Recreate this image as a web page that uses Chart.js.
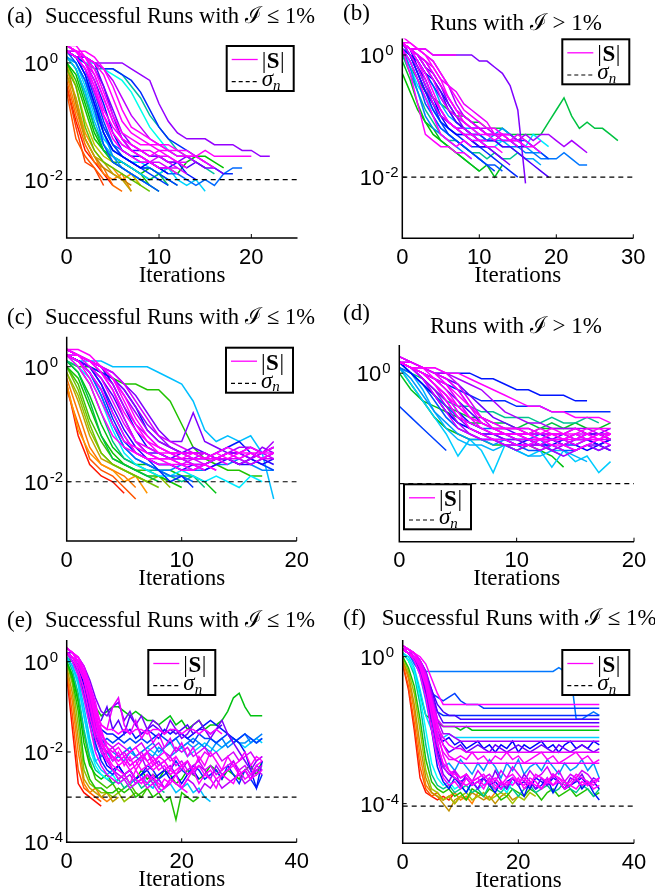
<!DOCTYPE html>
<html>
<head>
<meta charset="utf-8">
<script src="https://cdn.jsdelivr.net/npm/chart.js@4.4.0/dist/chart.umd.min.js"></script>
<style>
html, body { margin: 0; padding: 0; background: #fff; }
#wrap { position: relative; width: 655px; height: 895px; }
#wrap canvas { position: absolute; left: 0; top: 0; }
</style>
</head>
<body>
<div id="wrap">
<canvas id="pa" width="655" height="895"></canvas>
<canvas id="pb" width="655" height="895"></canvas>
<canvas id="pc" width="655" height="895"></canvas>
<canvas id="pd" width="655" height="895"></canvas>
<canvas id="pe" width="655" height="895"></canvas>
<canvas id="pf" width="655" height="895"></canvas>
</div>
<script>
// every run is a list of log10(|S|) values in tenths of a decade (-20 = 10^-2),
// one per iteration starting at iteration 0
const runsA = [
	[-4,-10,-15,-17,-19,-21],
	[-5,-13,-16,-18,-20],
	[-3,-9,-14,-17,-18,-21,-22],
	[-2,-8,-13,-16,-19,-20,-19,-22],
	[-4,-11,-17,-18,-21],
	[-1,-6,-12,-15,-17,-18,-20,-19,-21],
	[-2,-6,-13,-16,-17,-19,-20,-22],
	[0,-4,-10,-14,-16,-17,-18,-19,-21],
	[-1,-4,-11,-15,-17,-18,-19,-20,-21,-22],
	[0,-3,-8,-13,-15,-17,-17,-18,-19,-21],
	[0,-2,-7,-12,-15,-16,-17,-18,-19,-18,-19,-18,-19,-17,-16,-16,-17,-18],
	[1,-1,-6,-11,-14,-16,-17,-18,-19,-20,-19,-21],
	[1,0,-3,-8,-12,-15,-16,-17,-18,-18,-19,-20,-21],
	[2,1,0,-1,-1,-1,-2,-4,-6,-9,-11,-13,-15,-16,-17,-18,-19],
	[2,1,0,0,-1,-2,-3,-5,-8,-11,-13,-15,-16,-16,-17],
	[1,0,-4,-9,-13,-15,-16,-17,-17,-18,-19,-18,-20,-21,-20,-22],
	[2,1,-2,-7,-11,-14,-15,-16,-17,-17,-18,-19,-19,-20,-21,-20,-21,-19,-18,-18],
	[2,0,-3,-8,-14,-17,-18,-19,-20,-21,-22],
	[2,1,-1,-5,-10,-14,-16,-17,-18,-19,-20,-21],
	[2,1,0,-3,-7,-12,-15,-16,-16,-17,-18,-18,-17,-19,-20],
	[2,1,1,0,-1,-1,-2,-3,-5,-8,-11,-13,-14,-15,-16,-17,-18,-19,-19],
	[3,2,1,0,-4,-9,-13,-15,-15,-16,-16,-17,-17,-18,-17,-18],
	[2,1,1,0,0,0,0,-1,-2,-3,-7,-10,-12,-13,-13,-13,-14,-14,-14,-15,-15,-16,-16],
	[3,2,1,-1,-5,-9,-12,-13,-14,-14,-15,-15,-16,-16,-16,-17],
	[3,2,0,-3,-8,-11,-13,-14,-15,-15,-16,-16,-17,-17],
	[3,3,1,0,-2,-6,-10,-12,-13,-14,-14,-15,-15,-15,-16,-15,-16,-16,-16,-16,-16],
	[3,2,2,1,-1,-4,-8,-11,-12,-13,-14,-14,-15,-16,-16,-17,-18],
	[2,2,0,-2,-6,-10,-13,-15,-16,-17,-17,-18,-18,-19],
	[3,2,1,0,-1,-3,-6,-9,-11,-13,-14,-15,-16,-16,-17],
	[2,1,-1,-4,-9,-12,-14,-15,-16,-17,-18],
	[2,1,-1,-6,-11,-14,-16,-17,-18,-18,-19,-20,-21],
	[1,-1,-5,-10,-14,-16,-17,-18,-19,-20],
	[2,1,-2,-7,-12,-15,-16,-17,-18,-17,-18,-19],
	[3,2,0,-4,-9,-13,-15,-16,-17,-17,-18,-18,-19],
	[2,1,-1,-5,-9,-12,-14,-15,-16,-17,-16,-17,-18],
	[1,0,-3,-7,-12,-16,-18,-19,-20,-21],
	[1,-1,-5,-11,-15,-17,-18,-19,-20,-21,-22],
	[3,2,1,-2,-6,-10,-13,-14,-15,-16,-15,-16,-17,-18],
	[2,2,1,-1,-4,-8,-12,-14,-15,-16,-16,-17,-17,-16,-17,-18,-18,-19],
	[0,-7,-13,-16,-18,-19,-20,-21]
];
const huesA = [5,20,25,30,15,35,50,60,90,110,120,150,165,170,175,190,215,220,225,235,230,260,275,300,295,300,300,290,285,300,225,195,240,300,290,205,140,300,270,40];

const runsB = [
	[-3,-6,-9,-11,-13,-14,-15,-16,-17,-18,-19],
	[-1,-4,-8,-11,-12,-14,-15,-16,-17,-18,-19,-18,-20,-18],
	[0,-2,-4,-6,-7,-8,-9,-10,-10,-11,-11,-12,-12,-12,-13,-13,-13,-13,-13,-11,-9,-7,-10,-12,-11,-12,-12,-13,-14],
	[0,-3,-6,-9,-11,-13,-14,-14,-15,-16,-16,-17,-16,-17,-17,-16,-17],
	[1,-2,-5,-7,-9,-11,-12,-13,-13,-14,-14,-15,-15,-14,-14,-14,-15,-13,-14,-15],
	[1,-1,-4,-7,-10,-12,-13,-14,-15,-16,-17,-18],
	[1,0,-3,-6,-8,-10,-11,-12,-12,-13,-13,-14,-13,-12,-13,-14,-15,-16,-16,-17],
	[2,0,-2,-5,-7,-9,-11,-12,-13,-13,-14,-14,-14,-15,-15,-15,-16,-16,-17,-17,-17,-16,-17,-18,-18],
	[1,-1,-4,-8,-10,-12,-13,-14,-15,-16,-17,-18,-18,-19],
	[2,1,-1,-3,-5,-7,-9,-11,-12,-13,-13,-14,-14,-13,-13,-14,-14,-15,-16,-17],
	[2,0,-3,-6,-9,-11,-12,-13,-14,-15,-15,-16,-17,-18,-19,-20],
	[1,0,-1,-3,-4,-6,-8,-10,-11,-12,-12,-13,-13,-14,-14,-15,-15],
	[2,1,-2,-4,-7,-10,-12,-13,-13,-14,-15,-15],
	[2,1,0,-2,-4,-6,-9,-11,-12,-13,-14,-14,-14,-15,-15,-16,-17,-18,-19,-20],
	[2,1,1,1,0,0,0,0,0,0,-1,-1,-2,-3,-5,-9,-21],
	[2,1,1,0,-1,-3,-5,-8,-10,-11,-12,-13,-13,-13,-13,-14,-13,-14,-13,-13,-14,-15,-14,-15,-16],
	[2,1,0,-1,-3,-5,-7,-9,-10,-11,-12,-12,-13,-13,-14,-14,-15],
	[2,1,1,1,0,0,0,0],
	[2,1,-1,-3,-6,-9,-11,-12,-13,-13,-14,-14],
	[2,1,0,-2,-4,-7,-9,-10,-11,-12,-12,-13,-13,-14,-14,-15],
	[2,2,1,0,-2,-4,-7,-9,-11,-12,-13,-13,-14,-13,-14,-14,-15,-15,-16],
	[2,0,-2,-5,-8,-10,-11,-12,-12,-13,-13],
	[1,-1,-4,-7,-10,-13,-14,-15,-14,-15],
	[2,1,0,-1,-2,-4,-5,-6,-8,-9,-10,-11,-13,-13,-14,-14],
	[3,2,1,0,-1,-3,-5,-7,-9,-10,-11,-12,-12,-13,-13],
	[1,-3,-8,-13,-14,-15,-15,-16,-16,-17],
	[2,1,-1,-4,-7,-9,-11,-12,-13,-14,-14,-15,-15,-16],
	[2,0,-3,-6,-8,-10,-11,-12,-13,-14,-15,-15,-16,-17],
	[1,0,-2,-5,-8,-11,-13,-14,-15,-16,-17,-18,-19],
	[2,1,0,-1,-3,-5,-7,-9,-10,-11,-12,-13,-13,-13,-14,-13,-14,-15,-14],
	[1,-2,-6,-10,-12,-13,-14,-15,-16,-17],
	[2,1,0,-2,-3,-5,-8,-10,-12,-13,-14,-15,-16,-17,-18],
	[2,1,-1,-3,-5,-8,-10,-11,-12,-12,-13,-14,-14,-14,-15,-16,-17,-17,-18]
];
const huesB = [120,130,140,165,185,195,205,212,220,225,230,235,240,258,270,280,285,300,300,295,300,290,300,295,300,300,300,250,225,295,210,270,200];

const runsC = [
	[-3,-12,-17,-19,-20,-22],
	[-4,-10,-16,-18,-19,-21,-23],
	[-2,-8,-14,-17,-18,-19,-21],
	[-3,-11,-15,-17,-18,-20,-19,-22],
	[-1,-6,-12,-16,-17,-18,-19,-20],
	[-1,-5,-11,-15,-17,-18,-19,-20,-19,-21],
	[0,-3,-9,-13,-16,-17,-18,-18,-19,-20],
	[0,-2,-7,-12,-15,-17,-18,-19,-19,-20,-21],
	[1,-1,-5,-10,-14,-16,-17,-17,-18,-18,-19,-19,-20,-22],
	[1,0,0,-1,-2,-3,-3,-4,-4,-6,-10,-14,-16,-17,-18,-18,-19,-19],
	[1,0,-3,-8,-13,-16,-17,-18,-18,-19,-20,-19,-21],
	[2,0,-2,-6,-11,-15,-17,-18,-19,-19,-18,-19,-20,-19,-20,-21,-19,-20],
	[2,1,1,1,0,0,0,0,-1,-2,-3,-6,-11,-13,-12,-13,-12,-15,-23],
	[2,1,-1,-5,-10,-14,-16,-17,-18,-18,-17,-18,-18,-17,-17,-16,-17,-18,-18],
	[2,1,0,-3,-8,-12,-15,-16,-17,-17,-18,-18,-17,-16,-16,-17,-16,-17,-18],
	[2,1,-1,-4,-9,-13,-15,-16,-18,-20,-19,-21],
	[2,1,0,-1,-2,-4,-7,-11,-13,-14,-15,-16,-16,-15,-14,-13,-15,-16,-15],
	[2,2,1,0,-3,-7,-11,-14,-15,-16,-16,-17,-17,-16,-16,-17,-16,-17,-16],
	[2,1,0,-2,-5,-9,-13,-15,-15,-16,-15,-14,-15,-16,-15,-15,-16,-15,-14],
	[3,2,1,0,-1,-3,-5,-8,-11,-13,-13,-8,-13,-14,-15,-15,-14,-15,-14],
	[3,2,1,0,-2,-5,-8,-11,-13,-14,-15,-15,-15,-16,-15,-14,-14,-15,-13],
	[3,2,1,-1,-4,-8,-11,-13,-14,-15,-15,-16,-16,-15,-16,-15,-15,-16,-15],
	[3,2,0,-2,-6,-10,-13,-14,-15,-16,-16,-17,-17,-16,-17],
	[3,3,2,0,-2,-5,-9,-12,-14,-15,-15,-15,-16,-16,-15,-16,-15,-15,-15],
	[3,2,1,0,-1,-3,-6,-9,-12,-13,-14,-15,-15,-16,-16,-16,-17,-16,-16],
	[2,1,-2,-6,-10,-13,-14,-15,-16,-16,-17,-17,-18],
	[3,2,1,-1,-3,-7,-10,-12,-14,-15,-16,-16,-15,-16,-16,-17,-16,-15,-16],
	[2,0,-3,-8,-12,-14,-15,-16,-16,-17,-17,-18,-17,-18],
	[2,1,-1,-4,-8,-12,-15,-16,-17,-17,-18,-18,-17,-18],
	[3,2,1,-1,-4,-9,-13,-15,-16,-16,-17,-16,-17,-16,-15,-16,-15,-16,-15],
	[2,1,-1,-5,-10,-14,-16,-17,-18,-19,-19,-20],
	[1,-1,-6,-12,-16,-17,-18,-19,-20],
	[0,-4,-10,-15,-17,-18,-19,-20,-21],
	[2,2,1,0,-2,-6,-10,-13,-15,-15,-16,-15,-16,-15,-14,-15,-14,-15,-14],
	[2,1,0,-3,-7,-11,-14,-16,-17,-17,-18,-17,-18,-17,-16,-17,-17,-16,-17],
	[3,2,1,0,-2,-4,-7,-10,-12,-14,-15,-15,-16,-16,-15,-15,-16,-14,-15]
];
const huesC = [5,20,28,35,50,75,100,115,125,110,160,185,195,210,225,230,235,245,260,270,280,300,295,300,290,300,285,300,300,290,215,140,85,300,250,275];

const runsD = [
	[1,-2,-5,-8,-10,-11,-12,-12,-13,-13,-14,-13,-14,-15,-17],
	[0,-3,-5,-6,-7,-8,-9,-9,-10,-10,-10,-11,-10,-10,-10,-9,-10,-10,-9],
	[1,0,-2,-4,-6,-7,-8,-8,-9,-9,-10,-9,-10,-9,-10,-10,-11,-11,-12],
	[1,0,-1,-3,-5,-6,-6,-7,-7,-8,-8,-8,-9,-8,-9,-9,-8,-9],
	[1,-2,-5,-8,-11,-15,-12,-14,-18,-13,-14,-15,-14,-17,-14,-16,-15,-18,-16],
	[2,0,-3,-7,-10,-12,-13,-13,-14,-13,-14,-15,-15,-14,-14,-15,-16],
	[1,-1,-4,-7,-9,-11,-12,-12,-13,-12,-13,-13,-12,-14,-15],
	[-6,-8,-10,-12,-14],
	[2,1,-1,-4,-7,-9,-10,-11,-11,-12,-12,-12,-13,-12,-13,-13,-12,-13,-12],
	[2,1,1,0,0,0,0,-1,-1,-2,-3,-3,-4,-4,-4,-5,-5],
	[2,1,0,-1,-2,-3,-4,-5,-5,-5,-6,-6,-6,-7,-7,-7,-7,-7,-7],
	[2,0,-2,-5,-8,-10,-11,-12,-12,-13,-13,-14,-14,-13,-14,-14,-13,-14,-13],
	[2,1,0,-2,-4,-7,-9,-10,-11,-11,-12,-12,-12,-12,-13,-12,-12,-13,-12],
	[2,1,0,-1,-3,-5,-7,-9,-10,-10,-11,-11,-11,-12,-11,-12,-11,-11,-12],
	[3,2,1,0,-1,-2,-4,-6,-8,-9,-10,-10,-11,-11,-11,-10,-11,-11,-10],
	[2,2,1,0,0,-1,-2,-3,-5,-7,-8,-9,-9,-10,-10,-10,-10,-11,-11],
	[2,1,-1,-3,-6,-9,-11,-12,-12,-13,-14,-13,-13,-14,-15,-14,-13,-14,-13],
	[2,1,0,-2,-5,-8,-9,-10,-11,-11,-11,-12,-12,-11,-12,-12,-11,-12,-11],
	[3,2,1,0,-2,-5,-8,-10,-11,-11,-12,-12,-13,-12,-12,-13,-12,-11,-12],
	[2,1,1,-1,-3,-6,-8,-9,-10,-10,-10,-11,-10,-11,-11,-10,-11,-10,-10],
	[3,2,1,1,0,-2,-5,-8,-10,-11,-11,-12,-12,-12,-13,-12,-12,-12,-12],
	[2,1,0,-2,-4,-7,-10,-11,-12,-12,-13,-13,-12,-13,-13,-14,-13,-12,-13],
	[2,2,1,0,-1,-3,-6,-9,-10,-11,-11,-11,-12,-11,-11,-12,-12,-11,-11],
	[2,1,1,1,0,0,-1,-2,-3,-4,-5,-6,-6,-7,-7,-8,-8,-8,-9],
	[2,1,-1,-4,-7,-10,-11,-12,-12,-13,-13,-13,-14,-13,-14],
	[2,1,0,-2,-4,-6,-8,-9,-10,-11,-11,-11,-12,-12,-12,-11,-12,-12,-11],
	[3,2,1,0,-1,-3,-6,-8,-9,-10,-10,-11,-11,-11,-12,-11,-11,-12,-11],
	[2,0,-2,-4,-7,-9,-10,-11,-12,-12,-13,-12,-13,-13,-12,-13,-14,-13,-14],
	[1,0,-2,-4,-6,-8,-9,-10,-10,-11,-11,-12,-11,-12,-12,-11,-12,-13,-12],
	[2,1,0,-1,-2,-4,-6,-8,-9,-10,-10,-10,-11,-10,-11,-11,-10,-10,-11],
	[2,1,-1,-3,-5,-8,-10,-11,-11,-12,-12,-13,-13,-14,-13,-14,-13,-13,-14]
];
const huesD = [125,130,140,165,192,198,205,225,225,235,230,220,245,260,265,280,280,300,295,300,290,300,295,300,290,300,290,240,215,300,270];

const runsE = [
	[-3,-15,-27,-29,-30,-31,-32],
	[-2,-12,-24,-28,-29,-30,-31],
	[-2,-9,-20,-27,-29,-28,-30,-31,-30],
	[-1,-7,-17,-26,-28,-29,-30,-29,-31,-30],
	[0,-5,-14,-24,-27,-28,-29,-29,-30,-29,-31,-30,-29,-30],
	[0,-4,-11,-22,-26,-28,-28,-29,-29,-28,-29,-28,-30,-29,-28,-30,-29,-31,-30,-35,-29,-30,-31,-30],
	[1,0,-2,-5,-8,-10,-12,-11,-10,-10,-11,-12,-11,-12,-13,-13,-14,-13,-12,-14,-13,-15,-14,-13,-15,-14,-14,-13,-11,-8,-7,-10,-12,-12,-12],
	[0,-3,-9,-18,-23,-25,-26,-25,-27,-26,-25,-27,-26,-24,-26,-25,-26,-24,-25,-27,-26,-24,-25,-26,-25,-23,-24,-26,-24,-25,-26,-24,-23,-25,-22],
	[1,-2,-7,-15,-21,-24,-25,-26,-27,-26,-28,-27,-26,-28,-27,-26,-28,-29],
	[1,-1,-5,-12,-18,-22,-21,-20,-22,-21,-20,-19,-21,-20,-19,-20,-21,-19,-18,-20,-19,-21,-20,-19,-18,-19,-20,-19,-18,-17,-18,-19,-18,-17,-18],
	[1,-1,-4,-10,-17,-22,-24,-25,-24,-26,-25,-27,-26,-25,-27,-28,-26,-28,-27,-29,-28,-27,-29,-28,-30,-31],
	[2,0,-3,-8,-14,-19,-21,-20,-22,-21,-22,-20,-21,-22,-20,-21,-19,-20,-21,-20,-19,-18,-19,-18,-19,-20,-18,-19,-18,-17,-18,-18,-17,-18,-17],
	[2,0,-2,-7,-13,-17,-18,-17,-18,-17,-18,-17,-18,-17,-18,-17,-16,-17,-18,-17,-16,-17,-18,-16,-17,-17,-18,-17,-16,-18,-17,-16,-17,-18,-17],
	[2,1,-1,-5,-11,-18,-22,-24,-25,-23,-25,-24,-26,-25,-23,-24,-26,-25,-24,-22,-24,-25,-23,-24,-26,-25,-24,-26,-23,-25,-27,-24,-26,-28,-25],
	[2,1,0,-3,-8,-13,-15,-16,-16,-17,-16,-15,-17,-16,-15,-16,-17,-15,-16,-15,-16,-17,-16,-15,-14,-13,-14,-15,-16,-17,-18,-20,-24,-28,-22],
	[2,1,-1,-4,-9,-14,-13,-10,-15,-13,-16,-12,-14,-16,-15,-14,-15,-16,-15,-16,-15,-14,-16,-15,-15,-16,-15,-14],
	[2,2,1,-1,-4,-8,-11,-12,-10,-9,-13,-11,-14,-12,-15,-13,-14,-16,-13,-15,-17,-16,-14,-13,-15,-17,-15,-13,-16,-18,-20,-22,-24,-22,-21],
	[2,1,-1,-4,-9,-15,-18,-20,-21,-22,-21,-23,-22,-21,-24,-23,-22,-24,-23,-25,-24,-22,-25,-23,-24,-26,-23,-25,-24,-22,-25,-24,-26,-23,-24],
	[3,2,0,-3,-8,-14,-19,-22,-24,-25,-26,-25,-27,-26,-25,-27,-26,-28,-26,-27,-28,-26,-27,-29,-27,-28,-26,-28,-27,-26,-25,-27,-26,-24,-25],
	[2,1,-2,-6,-12,-17,-20,-22,-21,-23,-22,-24,-23,-21,-22,-24,-23,-22,-24,-25,-23,-22,-24,-23],
	[3,2,1,-1,-5,-10,-14,-15,-10,-8,-14,-16,-13,-17,-15,-18,-16,-19,-17,-20,-18,-21,-19,-22,-20,-21],
	[3,2,0,-3,-7,-13,-18,-21,-23,-24,-25,-24,-26,-27,-25,-26,-27,-28,-26,-27,-28,-29],
	[2,1,-1,-4,-10,-16,-19,-20,-19,-21,-20,-22,-21,-20,-22,-21,-23,-22,-21,-23,-22,-24,-23,-22,-24,-23,-25,-24,-23,-22,-24,-23,-25,-24,-23],
	[3,2,1,-2,-6,-11,-14,-15,-15,-16,-15,-16,-15,-15,-16,-15,-15,-16,-15,-15,-16,-15,-15,-16,-15,-16,-15,-16],
	[2,0,-3,-8,-14,-20,-23,-25,-26,-27,-26,-28,-27,-26,-28,-27,-29,-28,-27],
	[3,2,0,-2,-6,-12,-17,-21,-24,-26,-25,-27,-24,-26,-27,-25,-28,-26,-27,-25,-28,-26,-24,-27,-25,-26,-28,-25,-26,-27,-24,-26,-25,-23,-22],
	[2,1,0,-2,-5,-9,-15,-19,-22,-20,-23,-21,-24,-22,-20,-23,-21,-22,-24,-21,-23,-22,-24,-21,-23,-20,-22,-24,-21,-23,-22,-20,-23,-21,-22],
	[2,1,-1,-4,-9,-15,-18,-19,-20,-19,-21,-20,-19,-21,-20,-22,-21,-20,-22,-21],
	[3,2,0,-3,-7,-12,-16,-18,-19,-18,-19,-20,-19,-18,-20,-19,-18,-20,-21,-19,-20,-19,-21,-20,-19,-21,-20,-22,-21,-20,-22,-21,-20,-22,-21],
	[1,-1,-5,-12,-19,-23,-25,-26,-25,-27,-26,-28,-27,-26,-27,-28,-26],
	[2,1,-1,-5,-10,-16,-20,-23,-24,-23,-25,-24,-26,-25,-24,-26,-25,-24,-26,-25,-27,-25,-24,-26],
	[0,-3,-8,-16,-22,-26,-27,-28,-27,-29,-28,-27,-29,-30,-28],
	[3,2,1,-2,-6,-11,-16,-19,-21,-22,-21,-23,-22,-24,-23,-22,-24,-23,-25,-24,-23,-25,-24,-23,-25,-24,-26,-25,-24,-23,-25,-24,-26,-25,-24],
	[2,1,-1,-4,-8,-13,-17,-19,-20,-21,-20,-19,-21,-20,-19,-18,-20,-19,-18,-17,-19,-18,-17,-18,-19,-17,-18,-17,-19,-18,-17,-16,-18,-17,-16]
];
const huesE = [3,20,30,48,75,110,125,120,165,190,195,205,225,230,235,260,270,280,285,300,295,300,290,300,295,300,300,300,290,180,240,100,300,210];

const runsF = [
	[-2,-9,-20,-33,-37,-38,-39,-38,-39,-37],
	[-2,-8,-18,-30,-36,-38,-37,-39,-38,-40,-38],
	[-1,-6,-15,-27,-35,-37,-38,-39,-38,-37,-39,-38,-40,-37,-38,-39,-37],
	[-1,-5,-13,-24,-33,-37,-38,-40,-42,-39,-38,-39,-37,-38,-39,-38,-40,-38,-37,-39,-38],
	[0,-4,-10,-20,-31,-36,-37,-39,-38,-40,-38,-37,-39,-38,-37,-39,-38,-37,-38,-40,-38,-39,-37,-38],
	[0,-3,-8,-17,-28,-34,-36,-37,-36,-38,-37,-39,-36,-37,-38,-36,-37,-39,-38,-36,-37,-38,-36,-37,-39,-37,-36,-38,-37,-36,-38,-37,-36,-38,-37],
	[1,-1,-4,-10,-16,-17,-18,-19,-19,-19,-20,-19,-20,-20,-20,-20,-20,-20,-20,-20,-20,-20,-20,-20,-20,-20,-20,-20,-20,-20,-20,-20,-20,-20,-20],
	[1,-1,-5,-13,-24,-32,-35,-36,-35,-37,-36,-35,-37,-36,-38,-35,-36,-37,-35,-36,-38,-36,-35,-37,-36,-35,-37,-36,-34,-36,-37,-35,-36,-38,-36],
	[1,0,-3,-9,-16,-20,-21,-22,-21,-22,-22,-22,-22,-22,-22,-22,-22,-22,-22,-22,-22,-22,-22,-22,-22,-22,-22,-22,-22,-22,-22,-22,-22,-22,-22],
	[2,1,-1,-5,-12,-20,-27,-30,-29,-31,-28,-30,-32,-29,-31,-28,-30,-33,-29,-31,-28,-32,-30,-29,-31,-28,-30,-32,-29,-31,-30,-28,-31,-29,-33],
	[2,1,-2,-4,-4,-4,-4,-4,-4,-4,-4,-4,-4,-4,-4,-4,-4,-4,-4,-4,-4,-4,-4,-4,-4,-4,-4,-3,-4,-4,-17,-17,-16,-15,-16],
	[2,1,0,-2,-6,-10,-11,-12,-11,-10,-12,-13,-13,-13,-14,-14,-14,-14,-14,-14,-14,-14,-14,-14,-14,-14,-14,-14,-14,-14,-14,-14,-14,-14,-14],
	[2,1,0,-2,-5,-11,-15,-16,-16,-16,-16,-16,-16,-16,-16,-16,-16,-16,-16,-16,-16,-16,-16,-16,-16,-16,-16,-16,-16,-16,-16,-16,-16,-16,-16],
	[2,1,-1,-4,-10,-20,-30,-34,-36,-33,-35,-37,-34,-36,-33,-35,-37,-34,-36,-33,-35,-38,-34,-36,-35,-33,-37,-34,-36,-35,-33,-36,-34,-37,-39],
	[2,1,0,-3,-9,-17,-22,-23,-22,-24,-23,-25,-24,-23,-25,-24,-26,-24,-25,-23,-26,-24,-25,-24,-23,-25,-24,-26,-24,-23,-25,-24,-25,-23,-24],
	[2,2,1,-1,-4,-9,-15,-18,-18,-18,-18,-18,-18,-18,-18,-18,-18,-18,-18,-18,-18,-18,-18,-18,-18,-18,-18,-18,-18,-18,-18,-18,-18,-18,-18],
	[2,1,0,-3,-8,-15,-20,-24,-26,-25,-24,-26,-25,-24,-25,-26,-24,-25,-26,-25,-24,-25,-26,-25,-24,-25,-26,-24,-25,-26,-25,-24,-25,-26,-25],
	[2,1,-1,-4,-9,-17,-26,-32,-34,-31,-35,-32,-34,-36,-33,-35,-31,-34,-36,-33,-35,-32,-34,-36,-33,-35,-32,-34,-36,-33,-34,-32,-35,-33,-34],
	[3,2,1,-1,-4,-10,-17,-21,-21,-22,-23,-23,-23,-23,-23,-23,-23,-23,-23,-23,-23,-23,-23,-23,-23,-23,-23,-23,-23,-23,-23,-23,-23,-23,-23],
	[2,2,1,0,-2,-6,-10,-13,-13,-13,-13,-13,-13,-13,-13,-13,-13,-13,-13,-13,-13,-13,-13,-13,-13,-13,-13,-13,-13,-13,-13,-13,-13,-13,-13],
	[3,2,1,-1,-5,-12,-19,-22,-24,-25,-25,-26,-26,-26,-26,-26,-26,-26,-26,-26,-26,-26,-26,-26,-26,-26,-26,-26,-26,-26,-26,-26,-26,-26,-26],
	[2,1,-1,-5,-11,-20,-28,-33,-35,-34,-36,-33,-35,-34,-36,-33,-35,-36,-34,-35,-33,-36,-34,-35,-36,-33,-35,-34,-36,-35,-33,-35,-34,-36,-35],
	[3,2,0,-3,-8,-15,-23,-30,-32,-31,-33,-32,-34,-31,-33,-32,-34,-31,-33,-30,-32,-34,-31,-33,-32,-30,-33,-31,-34,-32,-33,-31,-32,-34,-33],
	[3,2,1,-2,-6,-13,-20,-27,-31,-33,-34,-35,-34,-33,-35,-34,-36,-34,-35,-33,-34,-35,-33,-34,-36,-34,-35,-33,-34,-35,-36,-34,-35,-34,-33],
	[2,1,0,-2,-7,-14,-22,-26,-28,-28,-29,-29,-29,-29,-29,-29,-29,-29,-29,-29,-29,-29,-29,-29,-29,-29,-29,-29,-29,-29,-29,-29,-29,-29,-29],
	[2,1,0,-3,-8,-16,-24,-29,-31,-32,-33,-32,-34,-33,-32,-34,-33,-35,-33,-32,-34,-33,-35,-32,-33,-34,-32,-33,-35,-34,-32,-33,-34,-35,-33],
	[2,1,-1,-4,-9,-17,-25,-30,-32,-33,-34,-33,-35,-34,-33,-35,-34,-36,-34,-33,-35,-34,-36,-33,-34,-35,-33,-34,-36,-35,-34,-33,-35,-34,-36],
	[3,2,1,-1,-5,-11,-17,-19,-19,-19,-19,-19,-19,-19,-19,-19,-19,-19,-19,-19,-19,-19,-19,-19,-19,-19,-19,-19,-19,-19,-19,-19,-19,-19,-19],
	[2,1,0,-2,-6,-12,-18,-24,-27,-28,-27,-28,-26,-28,-27,-29,-27,-28,-26,-28,-27,-29,-28,-27,-26,-28,-27,-29,-28,-27,-26,-28,-27,-29,-28],
	[1,-1,-4,-11,-20,-29,-33,-35,-34,-36,-35,-37,-34,-36,-35,-33,-36,-35,-37,-34],
	[2,1,0,-2,-5,-9,-13,-15,-16,-16,-17,-17,-17,-17,-17,-17,-17,-17,-17,-17,-17,-17,-17,-17,-17,-17,-17,-17,-17,-17,-17,-17,-17,-17,-17]
];
const huesF = [5,20,30,45,70,110,125,165,190,205,212,225,230,235,240,260,265,270,280,300,295,300,290,300,295,300,245,290,300,180,255];

// noise level sigma_n per panel
const sigmaA = 1e-2, sigmaB = 1e-2, sigmaC = 1e-2, sigmaD = 1e-2, sigmaE = 1e-3, sigmaF = 8.5e-5;

// axis ticks (y ticks are decade exponents)
const xTicksA = [0, 10, 20], yTicksA = [0, -2];
const xTicksB = [0, 10, 20, 30], yTicksB = [0, -2];
const xTicksC = [0, 10, 20], yTicksC = [0, -2];
const xTicksD = [0, 10, 20], yTicksD = [0];
const xTicksE = [0, 20, 40], yTicksE = [0, -2, -4];
const xTicksF = [0, 20, 40], yTicksF = [0, -4];

const titleOk = 'Successful Runs with \u2110 \u2264 1%';
const titleBad = 'Runs with \u2110 > 1%';

const SANS = '"Liberation Sans", Arial, sans-serif';
const SERIF = '"Liberation Serif", "Times New Roman", serif';

const panels = [
	{ id: 'pa', runs: runsA, hues: huesA, sigma: sigmaA, xTicks: xTicksA, yTicks: yTicksA,
		xMax: 25, yLo: -3, yHi: 0.29, box: [66.7, 46, 297.5, 238],
		tag: '(a)', tagPos: [7, 23.3], title: titleOk, titlePos: [45, 23.3], titleW: 270, legend: [226.7, 46] },
	{ id: 'pb', runs: runsB, hues: huesB, sigma: sigmaB, xTicks: xTicksB, yTicks: yTicksB,
		xMax: 30, yLo: -3, yHi: 0.27, box: [402.3, 38.5, 633.3, 238.3],
		tag: '(b)', tagPos: [343, 19.5], title: titleBad, titlePos: [430, 30], titleW: 177, legend: [562.3, 39.3] },
	{ id: 'pc', runs: runsC, hues: huesC, sigma: sigmaC, xTicks: xTicksC, yTicks: yTicksC,
		xMax: 20, yLo: -3.03, yHi: 0.52, box: [66.7, 336.8, 296.7, 541],
		tag: '(c)', tagPos: [7, 324.3], title: titleOk, titlePos: [45, 324.3], titleW: 270, legend: [226, 347.7] },
	{ id: 'pd', runs: runsD, hues: huesD, sigma: sigmaD, xTicks: xTicksD, yTicks: yTicksD,
		xMax: 20, yLo: -3.05, yHi: 0.51, box: [399.3, 345, 634, 541.7],
		tag: '(d)', tagPos: [343, 319.5], title: titleBad, titlePos: [430, 333.3], titleW: 172, legend: [404, 484.3] },
	{ id: 'pe', runs: runsE, hues: huesE, sigma: sigmaE, xTicks: xTicksE, yTicks: yTicksE,
		xMax: 40, yLo: -4, yHi: 0.48, box: [66.7, 640, 296.7, 842.3],
		tag: '(e)', tagPos: [7, 626.7], title: titleOk, titlePos: [45, 626.7], titleW: 270, legend: [148.3, 650] },
	{ id: 'pf', runs: runsF, hues: huesF, sigma: sigmaF, xTicks: xTicksF, yTicks: yTicksF,
		xMax: 40, yLo: -5.08, yHi: 0.455, box: [402.7, 640, 634, 843.3],
		tag: '(f)', tagPos: [343, 625], title: titleOk, titlePos: [381.7, 625], titleW: 275, legend: [562.3, 650] }
];

function hueColor(h) {
	// yellows and greens are darker in the original colour map
	const l = (h >= 40 && h <= 170) ? 38 : 50;
	return 'hsl(' + h + ',100%,' + l + '%)';
}

function line(ctx, x1, y1, x2, y2) {
	ctx.beginPath();
	ctx.moveTo(x1, y1);
	ctx.lineTo(x2, y2);
	ctx.stroke();
}

function drawLegend(ctx, L, T) {
	ctx.save();
	ctx.fillStyle = '#fff';
	ctx.fillRect(L, T, 67, 45);
	ctx.strokeStyle = '#000';
	ctx.lineWidth = 2;
	ctx.strokeRect(L, T, 67, 45);

	ctx.strokeStyle = '#ff00ff';
	ctx.lineWidth = 1.3;
	line(ctx, L + 5, T + 13.5, L + 31, T + 13.5);
	ctx.strokeStyle = '#000';
	ctx.lineWidth = 1.2;
	ctx.setLineDash([4, 3]);
	line(ctx, L + 5, T + 35.7, L + 31, T + 35.7);
	ctx.setLineDash([]);

	ctx.fillStyle = '#000';
	ctx.textAlign = 'left';
	ctx.textBaseline = 'alphabetic';
	let x = L + 35;
	ctx.font = '23px ' + SERIF;
	ctx.fillText('|', x, T + 22);
	x += ctx.measureText('|').width + 0.5;
	ctx.font = 'bold 23px ' + SERIF;
	ctx.fillText('S', x, T + 22);
	x += ctx.measureText('S').width + 0.5;
	ctx.font = '23px ' + SERIF;
	ctx.fillText('|', x, T + 22);

	ctx.font = 'italic 23px ' + SERIF;
	ctx.fillText('\u03c3', L + 35, T + 40);
	const w = ctx.measureText('\u03c3').width;
	ctx.font = 'italic 15px ' + SERIF;
	ctx.fillText('n', L + 35 + w, T + 43.5);
	ctx.restore();
}

function makeDecor(p) {
	return {
		id: 'decor',
		afterDraw(chart) {
			const ctx = chart.ctx;
			const xs = chart.scales.x, ys = chart.scales.y;
			const a = chart.chartArea;
			ctx.save();

			// axes (box off)
			ctx.strokeStyle = '#000';
			ctx.lineWidth = 1.5;
			ctx.beginPath();
			ctx.moveTo(a.left, a.top);
			ctx.lineTo(a.left, a.bottom);
			ctx.lineTo(a.right, a.bottom);
			ctx.stroke();

			ctx.lineWidth = 1;
			p.xTicks.forEach((v) => {
				if (v > 0) {
					const x = xs.getPixelForValue(v);
					line(ctx, x, a.bottom, x, a.bottom - 4);
				}
			});
			p.yTicks.forEach((e) => {
				const y = ys.getPixelForValue(Math.pow(10, e));
				line(ctx, a.left, y, a.left + 4, y);
			});

			// tick labels
			ctx.fillStyle = '#000';
			ctx.textBaseline = 'alphabetic';
			ctx.font = '22px ' + SANS;
			ctx.textAlign = 'center';
			p.xTicks.forEach((v) => {
				ctx.fillText(String(v), xs.getPixelForValue(v), a.bottom + 25.5);
			});
			p.yTicks.forEach((e) => {
				const y = ys.getPixelForValue(Math.pow(10, e));
				ctx.font = '22px ' + SANS;
				ctx.textAlign = 'right';
				ctx.fillText('10', a.left - 18, y + 8);
				ctx.font = '15px ' + SANS;
				ctx.textAlign = 'left';
				ctx.fillText(e === 0 ? '0' : '-' + (-e), a.left - 17, y);
			});

			// axis label and titles
			ctx.font = '23px ' + SERIF;
			ctx.textAlign = 'center';
			ctx.fillText('Iterations', (a.left + a.right) / 2, a.bottom + 43.7);
			ctx.textAlign = 'left';
			ctx.fillText(p.tag, p.tagPos[0], p.tagPos[1]);
			ctx.fillText(p.title, p.titlePos[0], p.titlePos[1], p.titleW);
			ctx.restore();

			drawLegend(ctx, p.legend[0], p.legend[1]);
		}
	};
}

panels.forEach((p) => {
	const datasets = p.runs.map((r, i) => ({
		data: r.map((v, k) => ({ x: k, y: Math.pow(10, v / 10) })),
		borderColor: hueColor(p.hues[i]),
		borderWidth: 1.5,
		order: -p.hues[i]
	}));
	datasets.push({
		data: [{ x: 0, y: p.sigma }, { x: p.xMax, y: p.sigma }],
		borderColor: '#000',
		borderWidth: 1.2,
		borderDash: [5, 4],
		order: -1000
	});

	new Chart(document.getElementById(p.id), {
		type: 'line',
		data: { datasets: datasets },
		options: {
			responsive: false,
			animation: false,
			events: [],
			layout: {
				padding: { left: p.box[0], top: p.box[1], right: 655 - p.box[2], bottom: 895 - p.box[3] }
			},
			elements: {
				point: { radius: 0 },
				line: { tension: 0, fill: false }
			},
			plugins: {
				legend: { display: false },
				tooltip: { enabled: false }
			},
			scales: {
				x: { type: 'linear', min: 0, max: p.xMax, display: false },
				y: { type: 'logarithmic', min: Math.pow(10, p.yLo), max: Math.pow(10, p.yHi), display: false }
			}
		},
		plugins: [makeDecor(p)]
	});
});
</script>
</body>
</html>
